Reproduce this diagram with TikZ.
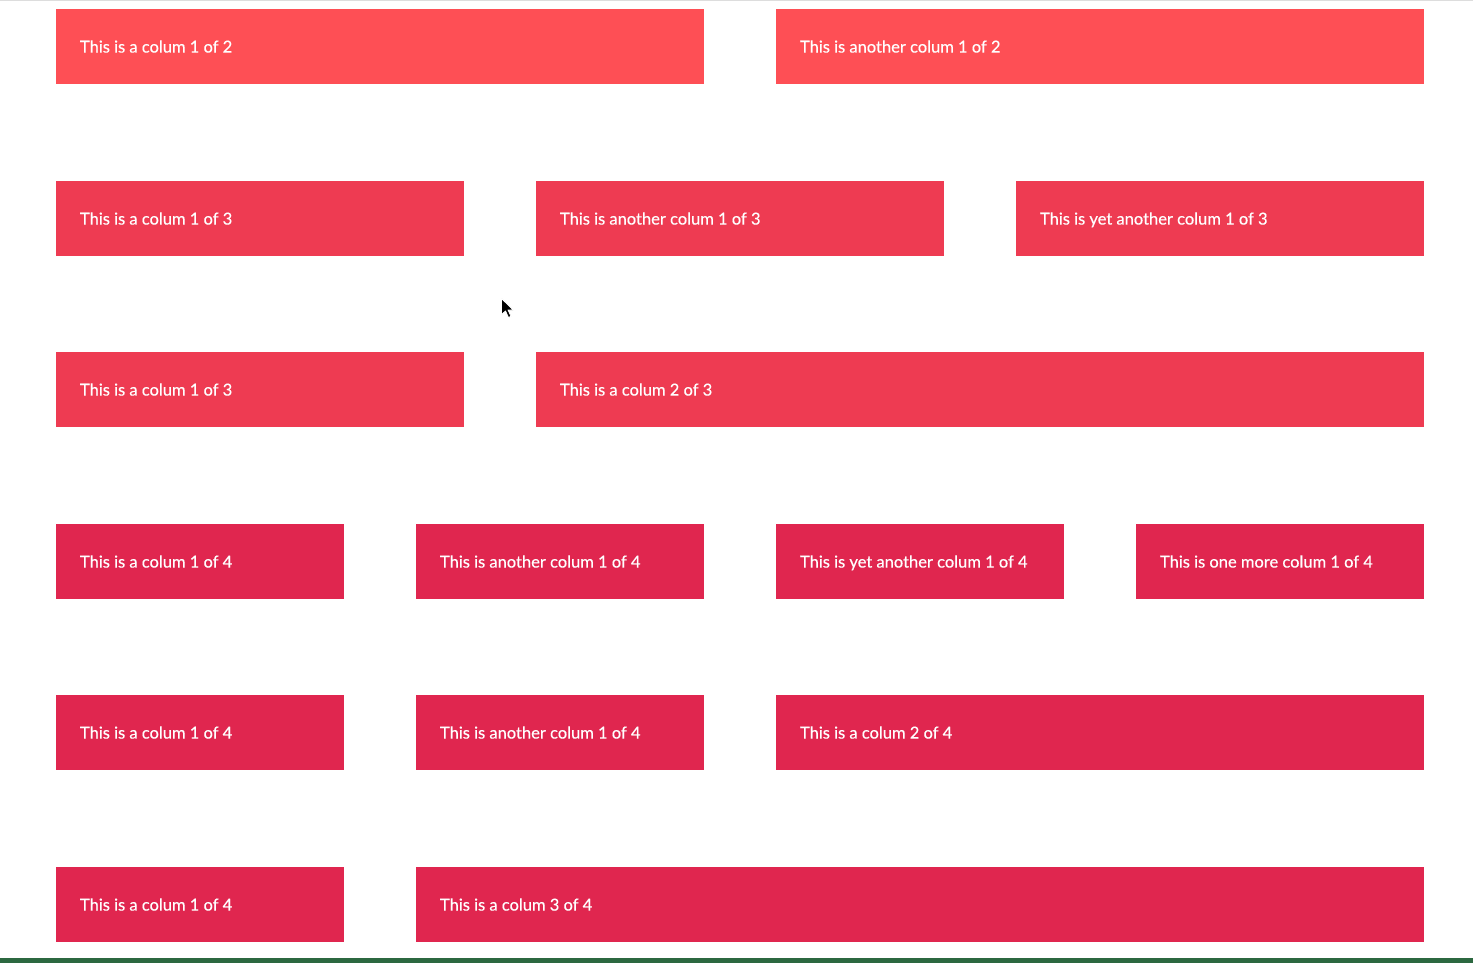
\documentclass[tikz,border=0pt]{standalone}
\usepackage{fontspec}
\setmainfont{Lato}[FakeBold=0.4]
\usepackage{xcolor}
\definecolor{halfred}{HTML}{FE4F55}
\definecolor{thirdred}{HTML}{EE3B52}
\definecolor{quarterred}{HTML}{E0264F}
\definecolor{topline}{HTML}{DDDDDD}
\definecolor{footgreen}{HTML}{2C6840}
\tikzset{
    gridcol/.style={
        anchor=north west,
        minimum height=75pt,
        inner xsep=24pt,
        inner ysep=0pt,
        outer sep=0pt,
        text=white,
        text depth=0pt,
        font=\fontsize{16.5}{19}\selectfont,
        execute at begin node={\spaceskip=4.2pt\relax}
    }
}

\begin{document}
\begin{tikzpicture}[x=1pt,y=-1pt]
    \useasboundingbox (0,0) rectangle (1473,963);
    \fill[white] (0,0) rectangle (1473,963);
    \fill[topline] (0,0) rectangle (1473,1.5);
    % name / left / top / width / colour / text
    \foreach \n/\x/\y/\w/\c/\t in {
        halfA/56/9/648/halfred/This is a colum 1 of 2,
        halfB/776/9/648/halfred/This is another colum 1 of 2,
        thirdA/56/181/408/thirdred/This is a colum 1 of 3,
        thirdB/536/181/408/thirdred/This is another colum 1 of 3,
        thirdC/1016/181/408/thirdred/This is yet another colum 1 of 3,
        thirdD/56/352/408/thirdred/This is a colum 1 of 3,
        thirdE/536/352/888/thirdred/This is a colum 2 of 3,
        quarterA/56/524/288/quarterred/This is a colum 1 of 4,
        quarterB/416/524/288/quarterred/This is another colum 1 of 4,
        quarterC/776/524/288/quarterred/This is yet another colum 1 of 4,
        quarterD/1136/524/288/quarterred/This is one more colum 1 of 4,
        quarterE/56/695/288/quarterred/This is a colum 1 of 4,
        quarterF/416/695/288/quarterred/This is another colum 1 of 4,
        quarterG/776/695/648/quarterred/This is a colum 2 of 4,
        quarterH/56/867/288/quarterred/This is a colum 1 of 4,
        quarterI/416/867/1008/quarterred/This is a colum 3 of 4
    }
        \node[gridcol,fill=\c,text width={\w-48}] (\n) at (\x,\y) {\t};
    % pointer
    \filldraw[fill=black,draw=white,line width=0.8pt,line join=round]
        (501.5,298.5) -- ++(0,16) -- ++(4,-3.5) -- ++(3,6.5) -- ++(2.5,-1.2)
        -- ++(-3,-6.3) -- ++(5.2,0) -- cycle;
    \fill[footgreen] (0,958) rectangle (1473,963);
\end{tikzpicture}
\end{document}
